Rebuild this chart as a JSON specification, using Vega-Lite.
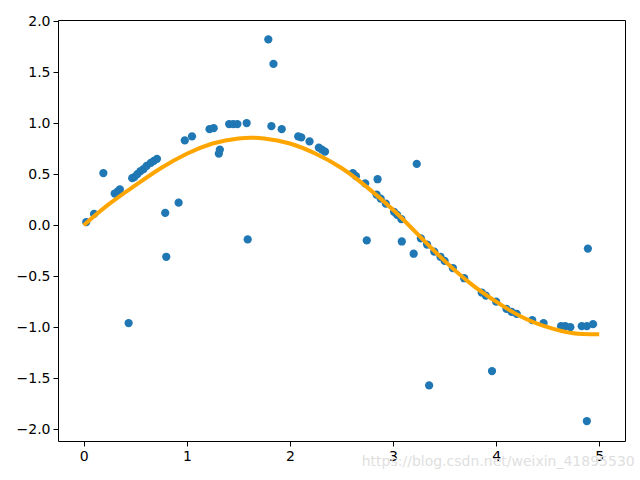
{
  "$schema": "https://vega.github.io/schema/vega-lite/v6.json",
  "width": 567,
  "height": 421,
  "autosize": {"type": "none"},
  "padding": {"left": 58, "top": 20, "right": 15, "bottom": 39},
  "background": "white",
  "config": {
    "view": {"stroke": "black", "strokeWidth": 1},
    "font": "DejaVu Sans",
    "axis": {
      "grid": false,
      "domain": false,
      "tickColor": "black",
      "tickSize": 5,
      "tickWidth": 1,
      "labelColor": "black",
      "labelFont": "DejaVu Sans",
      "labelFontSize": 14,
      "labelPadding": 3,
      "title": null
    }
  },
  "datasets": {
    "pts": [
      {"x": 0.024, "y": 0.03}, {"x": 0.10, "y": 0.11}, {"x": 0.19, "y": 0.51},
      {"x": 0.30, "y": 0.31}, {"x": 0.33, "y": 0.33}, {"x": 0.35, "y": 0.35},
      {"x": 0.435, "y": -0.96}, {"x": 0.47, "y": 0.46}, {"x": 0.49, "y": 0.47},
      {"x": 0.52, "y": 0.50}, {"x": 0.55, "y": 0.53}, {"x": 0.58, "y": 0.55},
      {"x": 0.61, "y": 0.58}, {"x": 0.65, "y": 0.61}, {"x": 0.68, "y": 0.63},
      {"x": 0.71, "y": 0.65}, {"x": 0.79, "y": 0.12}, {"x": 0.80, "y": -0.31},
      {"x": 0.92, "y": 0.22}, {"x": 0.98, "y": 0.83}, {"x": 1.05, "y": 0.87},
      {"x": 1.22, "y": 0.94}, {"x": 1.26, "y": 0.95}, {"x": 1.31, "y": 0.70},
      {"x": 1.32, "y": 0.74}, {"x": 1.41, "y": 0.99}, {"x": 1.45, "y": 0.99},
      {"x": 1.49, "y": 0.99}, {"x": 1.58, "y": 1.00}, {"x": 1.59, "y": -0.14},
      {"x": 1.79, "y": 1.82}, {"x": 1.82, "y": 0.97}, {"x": 1.84, "y": 1.58},
      {"x": 1.92, "y": 0.94}, {"x": 2.08, "y": 0.87}, {"x": 2.11, "y": 0.86},
      {"x": 2.19, "y": 0.82}, {"x": 2.28, "y": 0.76}, {"x": 2.31, "y": 0.74},
      {"x": 2.34, "y": 0.72}, {"x": 2.61, "y": 0.51}, {"x": 2.64, "y": 0.48},
      {"x": 2.73, "y": 0.41}, {"x": 2.745, "y": -0.15}, {"x": 2.84, "y": 0.30},
      {"x": 2.85, "y": 0.45}, {"x": 2.88, "y": 0.26}, {"x": 2.93, "y": 0.21},
      {"x": 3.01, "y": 0.13}, {"x": 3.04, "y": 0.10}, {"x": 3.08, "y": 0.06},
      {"x": 3.085, "y": -0.16}, {"x": 3.20, "y": -0.28}, {"x": 3.23, "y": 0.60},
      {"x": 3.27, "y": -0.13}, {"x": 3.33, "y": -0.19}, {"x": 3.35, "y": -1.57},
      {"x": 3.40, "y": -0.26}, {"x": 3.46, "y": -0.31}, {"x": 3.50, "y": -0.35},
      {"x": 3.58, "y": -0.42}, {"x": 3.69, "y": -0.52}, {"x": 3.86, "y": -0.66},
      {"x": 3.90, "y": -0.69}, {"x": 3.96, "y": -1.43}, {"x": 4.00, "y": -0.75},
      {"x": 4.10, "y": -0.82}, {"x": 4.15, "y": -0.85}, {"x": 4.20, "y": -0.87},
      {"x": 4.35, "y": -0.93}, {"x": 4.46, "y": -0.96}, {"x": 4.63, "y": -0.99},
      {"x": 4.67, "y": -0.99}, {"x": 4.72, "y": -1.00}, {"x": 4.83, "y": -0.99},
      {"x": 4.88, "y": -0.99}, {"x": 4.88, "y": -1.92}, {"x": 4.89, "y": -0.23},
      {"x": 4.94, "y": -0.97}
    ],
    "fit": [
      {"x": 0.0, "y": 0.0}, {"x": 0.25, "y": 0.21}, {"x": 0.5, "y": 0.39},
      {"x": 0.75, "y": 0.56}, {"x": 1.0, "y": 0.70}, {"x": 1.25, "y": 0.80},
      {"x": 1.5, "y": 0.85}, {"x": 1.75, "y": 0.85}, {"x": 2.0, "y": 0.80},
      {"x": 2.25, "y": 0.70}, {"x": 2.5, "y": 0.56}, {"x": 2.75, "y": 0.37},
      {"x": 3.0, "y": 0.15}, {"x": 3.25, "y": -0.10}, {"x": 3.5, "y": -0.35},
      {"x": 3.75, "y": -0.57}, {"x": 4.0, "y": -0.75}, {"x": 4.25, "y": -0.90},
      {"x": 4.5, "y": -1.00}, {"x": 4.75, "y": -1.06}, {"x": 5.0, "y": -1.07}
    ],
    "wm": [{"x": 4.02, "y": -2.32, "t": "https://blog.csdn.net/weixin_41895530"}]
  },
  "layer": [
    {
      "data": {"name": "pts"},
      "mark": {"type": "point", "filled": true, "opacity": 1, "size": 68, "color": "#1f77b4", "shape": "circle"},
      "encoding": {
        "x": {"field": "x", "type": "quantitative", "scale": {"domain": [-0.25, 5.25], "nice": false, "zero": false},
              "axis": {"values": [0, 1, 2, 3, 4, 5], "format": "d"}},
        "y": {"field": "y", "type": "quantitative", "scale": {"domain": [-2.115, 2.01], "nice": false, "zero": false},
              "axis": {"values": [-2, -1.5, -1, -0.5, 0, 0.5, 1, 1.5, 2], "format": ".1f"}}
      }
    },
    {
      "data": {"name": "fit"},
      "mark": {"type": "line", "color": "orange", "strokeWidth": 4, "interpolate": "natural"},
      "encoding": {
        "x": {"field": "x", "type": "quantitative"},
        "y": {"field": "y", "type": "quantitative"}
      }
    },
    {
      "data": {"name": "wm"},
      "mark": {"type": "text", "color": "#e0e0e0", "fontSize": 14, "font": "DejaVu Sans", "clip": false, "align": "center", "baseline": "middle"},
      "encoding": {
        "x": {"field": "x", "type": "quantitative"},
        "y": {"field": "y", "type": "quantitative"},
        "text": {"field": "t"}
      }
    }
  ]
}
